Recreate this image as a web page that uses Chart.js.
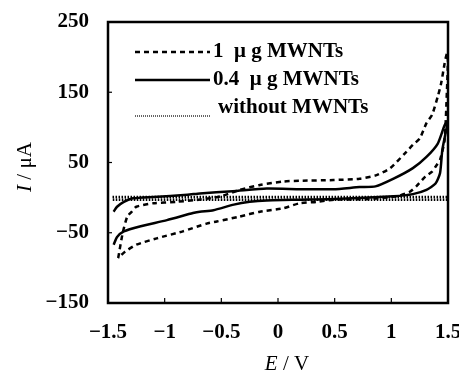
<!DOCTYPE html>
<html>
<head>
<meta charset="utf-8">
<script src="https://cdn.jsdelivr.net/npm/chart.js@4.4.0/dist/chart.umd.min.js"></script>
<style>
  html, body { margin: 0; padding: 0; background: #fff; }
</style>
</head>
<body>
<canvas id="cvChart" width="459" height="376"></canvas>
<script>
// CV curves: potential E (V) and current I (uA), one loop per film
const e1ug = [-1.41, -1.37, -1.33, -1.29, -1.25, -1.10, -0.90, -0.70, -0.50, -0.34, -0.16, 0.05, 0.19, 0.49, 0.72, 0.87, 0.99, 1.12, 1.19, 1.25, 1.31, 1.36, 1.41, 1.44, 1.47, 1.49, 1.50,
              1.49, 1.47, 1.43, 1.39, 1.36, 1.30, 1.22, 1.16, 1.05, 0.80, 0.50, 0.34, 0.19, 0.05, -0.16, -0.34, -0.54, -0.63, -0.84, -1.07, -1.25, -1.35, -1.41];
const i1ug = [-86, -50, -27, -20, -13, -8, -6, -3, 2, 11, 18, 23, 24, 25, 27, 32, 42, 63, 75, 84, 106, 118, 144, 163, 191, 205, 200,
              150, 82, 54, 44, 37, 30, 16, 8, 2, -2, -3, -6, -8, -15, -20, -27, -34, -37, -48, -58, -67, -77, -86];

const e04ug = [-1.45, -1.42, -1.36, -1.28, -1.10, -0.80, -0.69, -0.40, -0.10, 0.20, 0.49, 0.72, 0.86, 1.02, 1.19, 1.31, 1.41, 1.47, 1.50,
               1.49, 1.45, 1.43, 1.39, 1.31, 1.19, 1.02, 0.50, 0.19, -0.10, -0.25, -0.39, -0.57, -0.69, -0.75, -0.98, -1.22, -1.36, -1.42, -1.45];
const i04ug = [-20, -13, -6, -1, 1, 4, 6, 9, 13, 12, 12, 15, 16, 27, 42, 58, 77, 103, 110,
               101, 68, 35, 20, 11, 5, 2, -2, -3, -4, -6, -10, -18, -20, -22, -32, -41, -48, -56, -67];

const eBare = [-1.46, 1.50, 1.50, -1.46];
const iBare = [1, 1, -3, -3];

const seriesLabels = ['1  \u03bc g MWNTs', '0.4  \u03bc g MWNTs', 'without MWNTs'];
const xTicks = [-1.5, -1, -0.5, 0, 0.5, 1, 1.5];
const yTicks = [-150, -50, 50, 150, 250];

const serif = "'Liberation Serif', 'Times New Roman', serif";

function toPoints(xs, ys) {
    return xs.map((x, k) => ({ x: x, y: ys[k] }));
}

function fmt(v) {
    return v < 0 ? '\u2212' + Math.abs(v) : String(v);
}

// frame, inner tick marks, legend and axis titles
const decor = {
    id: 'decor',
    afterDraw(chart) {
        const c = chart.ctx;
        const a = chart.chartArea;
        const sx = chart.scales.x, sy = chart.scales.y;
        c.save();
        c.strokeStyle = '#000';
        c.lineWidth = 2.5;
        c.strokeRect(a.left, a.top, a.right - a.left, a.bottom - a.top);

        c.lineWidth = 1.2;
        xTicks.forEach(v => {
            const px = sx.getPixelForValue(v);
            c.beginPath(); c.moveTo(px, a.bottom); c.lineTo(px, a.bottom - 5); c.stroke();
        });
        yTicks.forEach(v => {
            const py = sy.getPixelForValue(v);
            c.beginPath(); c.moveTo(a.left, py); c.lineTo(a.left + 4, py); c.stroke();
        });

        // legend
        const x0 = a.left + 27, x1 = a.left + 102;
        const rows = [a.top + 30, a.top + 58, a.top + 86];
        const ds = chart.data.datasets;
        c.font = 'bold 21px ' + serif;
        c.fillStyle = '#000';
        c.textBaseline = 'middle';
        rows.forEach((ry, k) => {
            const d = ds[k];
            const ly = k === 2 ? ry + 8 : ry;
            c.beginPath();
            c.lineWidth = k === 2 ? 1.2 : d.borderWidth;
            c.setLineDash(k === 2 ? [1, 1] : (d.borderDash || []));
            c.moveTo(x0, ly); c.lineTo(x1, ly);
            c.stroke();
            c.setLineDash([]);
            c.fillText(d.label, x1 + (k === 2 ? 8 : 3), ry);
        });

        // axis titles with italic symbol
        c.textBaseline = 'middle';
        const xt = [['italic 21px ' + serif, 'E'], ['21px ' + serif, ' / V']];
        let w = 0;
        xt.forEach(p => { c.font = p[0]; w += c.measureText(p[1]).width; });
        let tx = (a.left + a.right) / 2 + 9 - w / 2;
        xt.forEach(p => { c.font = p[0]; c.fillText(p[1], tx, 364); tx += c.measureText(p[1]).width; });

        c.translate(25, 167);
        c.rotate(-Math.PI / 2);
        const yt = [['italic 21px ' + serif, 'I'], ['21px ' + serif, ' / \u03bcA']];
        w = 0;
        yt.forEach(p => { c.font = p[0]; w += c.measureText(p[1]).width; });
        tx = -w / 2;
        yt.forEach(p => { c.font = p[0]; c.fillText(p[1], tx, 0); tx += c.measureText(p[1]).width; });
        c.restore();
    }
};

const ctx = document.getElementById('cvChart').getContext('2d');
const cvChart = new Chart(ctx, {
    type: 'scatter',
    data: {
        datasets: [{
            label: seriesLabels[0],
            data: toPoints(e1ug, i1ug),
            showLine: true,
            borderColor: '#000',
            borderWidth: 2.5,
            borderDash: [5, 4],
            pointRadius: 0,
            tension: 0.2
        }, {
            label: seriesLabels[1],
            data: toPoints(e04ug, i04ug),
            showLine: true,
            borderColor: '#000',
            borderWidth: 2.5,
            pointRadius: 0,
            tension: 0.2
        }, {
            label: seriesLabels[2],
            data: toPoints(eBare, iBare),
            showLine: true,
            borderColor: '#000',
            borderWidth: 2.5,
            borderDash: [1.5, 1.5],
            pointRadius: 0
        }]
    },
    options: {
        responsive: false,
        animation: false,
        layout: { padding: { left: 0, top: 22, right: 11, bottom: 0 } },
        plugins: { legend: { display: false }, tooltip: { enabled: false } },
        scales: {
            x: {
                type: 'linear',
                min: -1.5, max: 1.5,
                grid: { display: false },
                border: { display: false },
                afterBuildTicks: s => { s.ticks = xTicks.map(v => ({ value: v })); },
                afterFit: s => { s.height = 73; s.paddingLeft = 0; s.paddingRight = 0; },
                ticks: {
                    color: '#000',
                    padding: 9,
                    maxRotation: 0,
                    autoSkip: false,
                    font: { family: serif, size: 21, weight: 'bold' },
                    callback: v => fmt(v)
                }
            },
            y: {
                min: -150, max: 250,
                grid: { display: false },
                border: { display: false },
                afterBuildTicks: s => { s.ticks = yTicks.map(v => ({ value: v })); },
                afterFit: s => { s.width = 108; s.paddingTop = 0; s.paddingBottom = 0; },
                ticks: {
                    color: '#000',
                    padding: 11,
                    autoSkip: false,
                    font: { family: serif, size: 21, weight: 'bold' },
                    callback: v => fmt(v)
                }
            }
        }
    },
    plugins: [decor]
});
</script>
</body>
</html>
